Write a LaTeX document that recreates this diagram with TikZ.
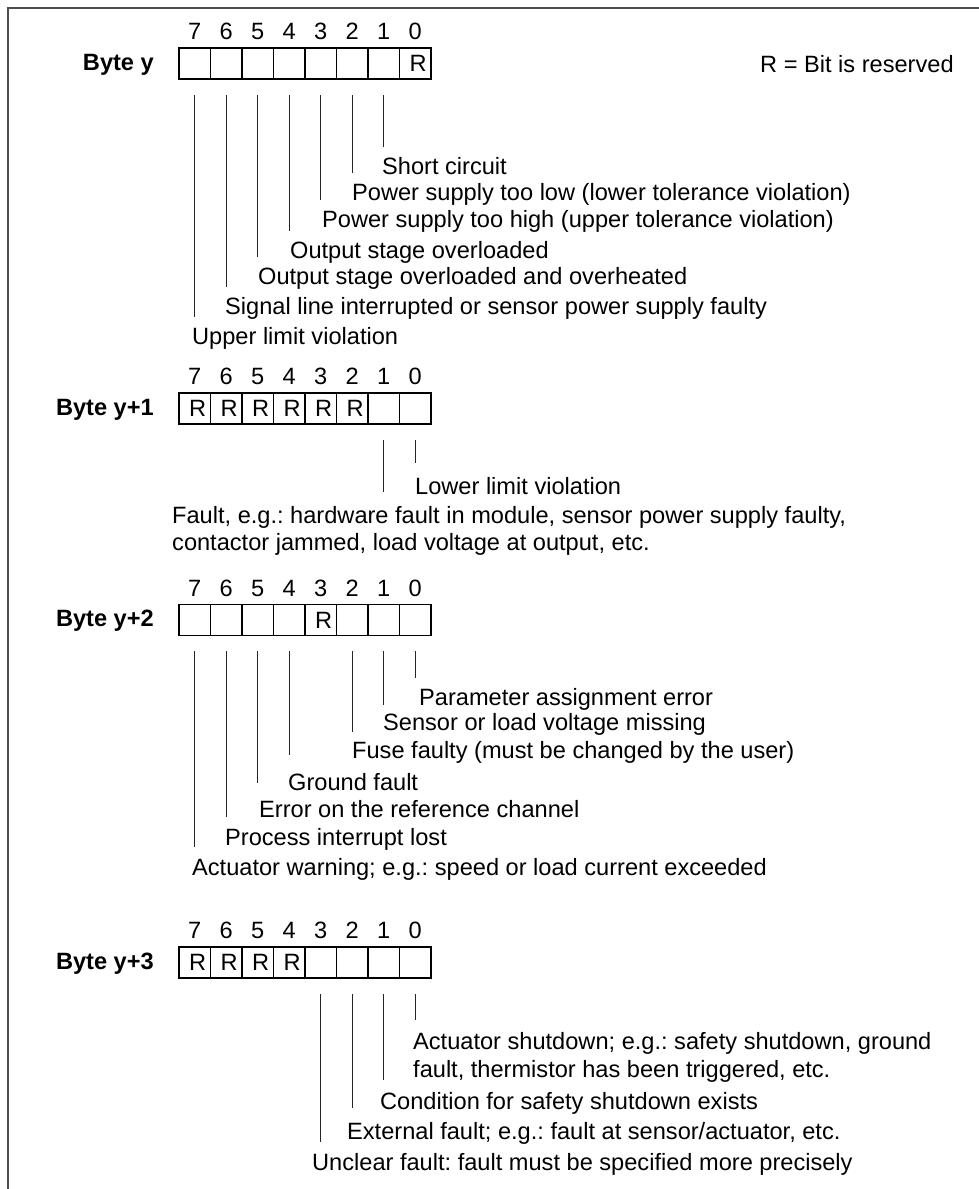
\documentclass[tikz,border=0pt]{standalone}
\usepackage{fontspec}
\setmainfont{Liberation Sans}
\frenchspacing
\usetikzlibrary{calc}
\newcommand\byterow[3]{%
  \foreach \bit in {7,...,0} {%
    \pgfmathsetmacro\cx{194.75+31.5*(7-\bit)}%
    \node[cell] (#1\bit) at (\cx,#2) {};
    \node[bitnum] (#1n\bit) at (\cx,#2-32) {\bit};
  }%
  \foreach \bit in {#3} {%
    \node[rmark] (#1r\bit) at ($(#1\bit.center)+(3,0)$) {R};
  }%
}
\newcommand\bitline[3]{%
  \draw[conn] ([yshift=-15pt]#1.south) -- ($(#1.south |- #2.mid)+(0,-#3-5)$);%
}
\begin{document}
\begin{tikzpicture}[x=1pt,y=-1pt,
  every node/.style={font=\fontsize{23.6}{28}\selectfont, inner sep=0pt},
  cell/.style={draw=black, line width=1.5pt, minimum width=31.5pt, minimum height=31pt, anchor=center},
  bitnum/.style={anchor=center},
  rmark/.style={anchor=center},
  lbl/.style={anchor=mid west, yshift=-5pt},
  bytelbl/.style={anchor=mid east, yshift=-4pt, font=\fontsize{23.6}{28}\selectfont\bfseries},
  conn/.style={draw=black!85, line width=1.2pt},
  frame/.style={draw=black!70, line width=2pt}]
\useasboundingbox (0,0) rectangle (979,1189);
\draw[frame] (979,8) coordinate (fr1) -- (8,8) coordinate (fr2) -- (8,1189) coordinate (fr3);

% Byte y
\node[bytelbl] (Alab) at (154,63.5) {Byte y};
\node[anchor=mid west, yshift=-5pt] (legend) at (760,65) {R = Bit is reserved};
\byterow{A}{63.5}{0}
\node[lbl] (A1t) at (382,167) {Short circuit};
\node[lbl] (A2t) at (352,193) {Power supply too low (lower tolerance violation)};
\node[lbl] (A3t) at (322,220) {Power supply too high (upper tolerance violation)};
\node[lbl] (A4t) at (290,251) {Output stage overloaded};
\node[lbl] (A5t) at (258,277) {Output stage overloaded and overheated};
\node[lbl] (A6t) at (225,307) {Signal line interrupted or sensor power supply faulty};
\node[lbl] (A7t) at (192,337) {Upper limit violation};
\bitline{A1}{A1t}{20}
\bitline{A2}{A2t}{20}
\bitline{A3}{A3t}{20}
\bitline{A4}{A4t}{20}
\bitline{A5}{A5t}{20}
\bitline{A6}{A6t}{20}
\bitline{A7}{A7t}{20}

% Byte y+1
\node[bytelbl] (Blab) at (154,408.5) {Byte y+1};
\byterow{B}{408.5}{7,6,5,4,3,2}
\node[lbl] (B0t) at (415,487) {Lower limit violation};
\node[lbl] (B1t) at (172,516) {Fault, e.g.: hardware fault in module, sensor power supply faulty,};
\node[lbl] (B1u) at (172,543) {contactor jammed, load voltage at output, etc.};
\bitline{B0}{B0t}{24}
\bitline{B1}{B1t}{24}

% Byte y+2
\node[bytelbl] (Clab) at (154,620) {Byte y+2};
\byterow{C}{620}{3}
\node[lbl] (C0t) at (419,698) {Parameter assignment error};
\node[lbl] (C1t) at (383,723) {Sensor or load voltage missing};
\node[lbl] (C2t) at (352,751) {Fuse faulty (must be changed by the user)};
\node[lbl] (C4t) at (288,783) {Ground fault};
\node[lbl] (C5t) at (259,810) {Error on the reference channel};
\node[lbl] (C6t) at (225,838) {Process interrupt lost};
\node[lbl] (C7t) at (192,868) {Actuator warning; e.g.: speed or load current exceeded};
\bitline{C0}{C0t}{20}
\bitline{C1}{C1t}{18}
\bitline{C2}{C2t}{19}
\bitline{C4}{C4t}{28}
\bitline{C5}{C5t}{27}
\bitline{C6}{C6t}{21}
\bitline{C7}{C7t}{21}

% Byte y+3
\node[bytelbl] (Dlab) at (154,962.5) {Byte y+3};
\byterow{D}{962.5}{7,6,5,4}
\node[lbl] (D0t) at (413,1042) {Actuator shutdown; e.g.: safety shutdown, ground};
\node[lbl] (D0u) at (413,1070) {fault, thermistor has been triggered, etc.};
\node[lbl] (D1t) at (380,1102) {Condition for safety shutdown exists};
\node[lbl] (D2t) at (347,1132) {External fault; e.g.: fault at sensor/actuator, etc.};
\node[lbl] (D3t) at (312,1163) {Unclear fault: fault must be specified more precisely};
\bitline{D0}{D0t}{22}
\bitline{D1}{D1t}{22}
\bitline{D2}{D2t}{24}
\bitline{D3}{D3t}{21}
\end{tikzpicture}
\end{document}
